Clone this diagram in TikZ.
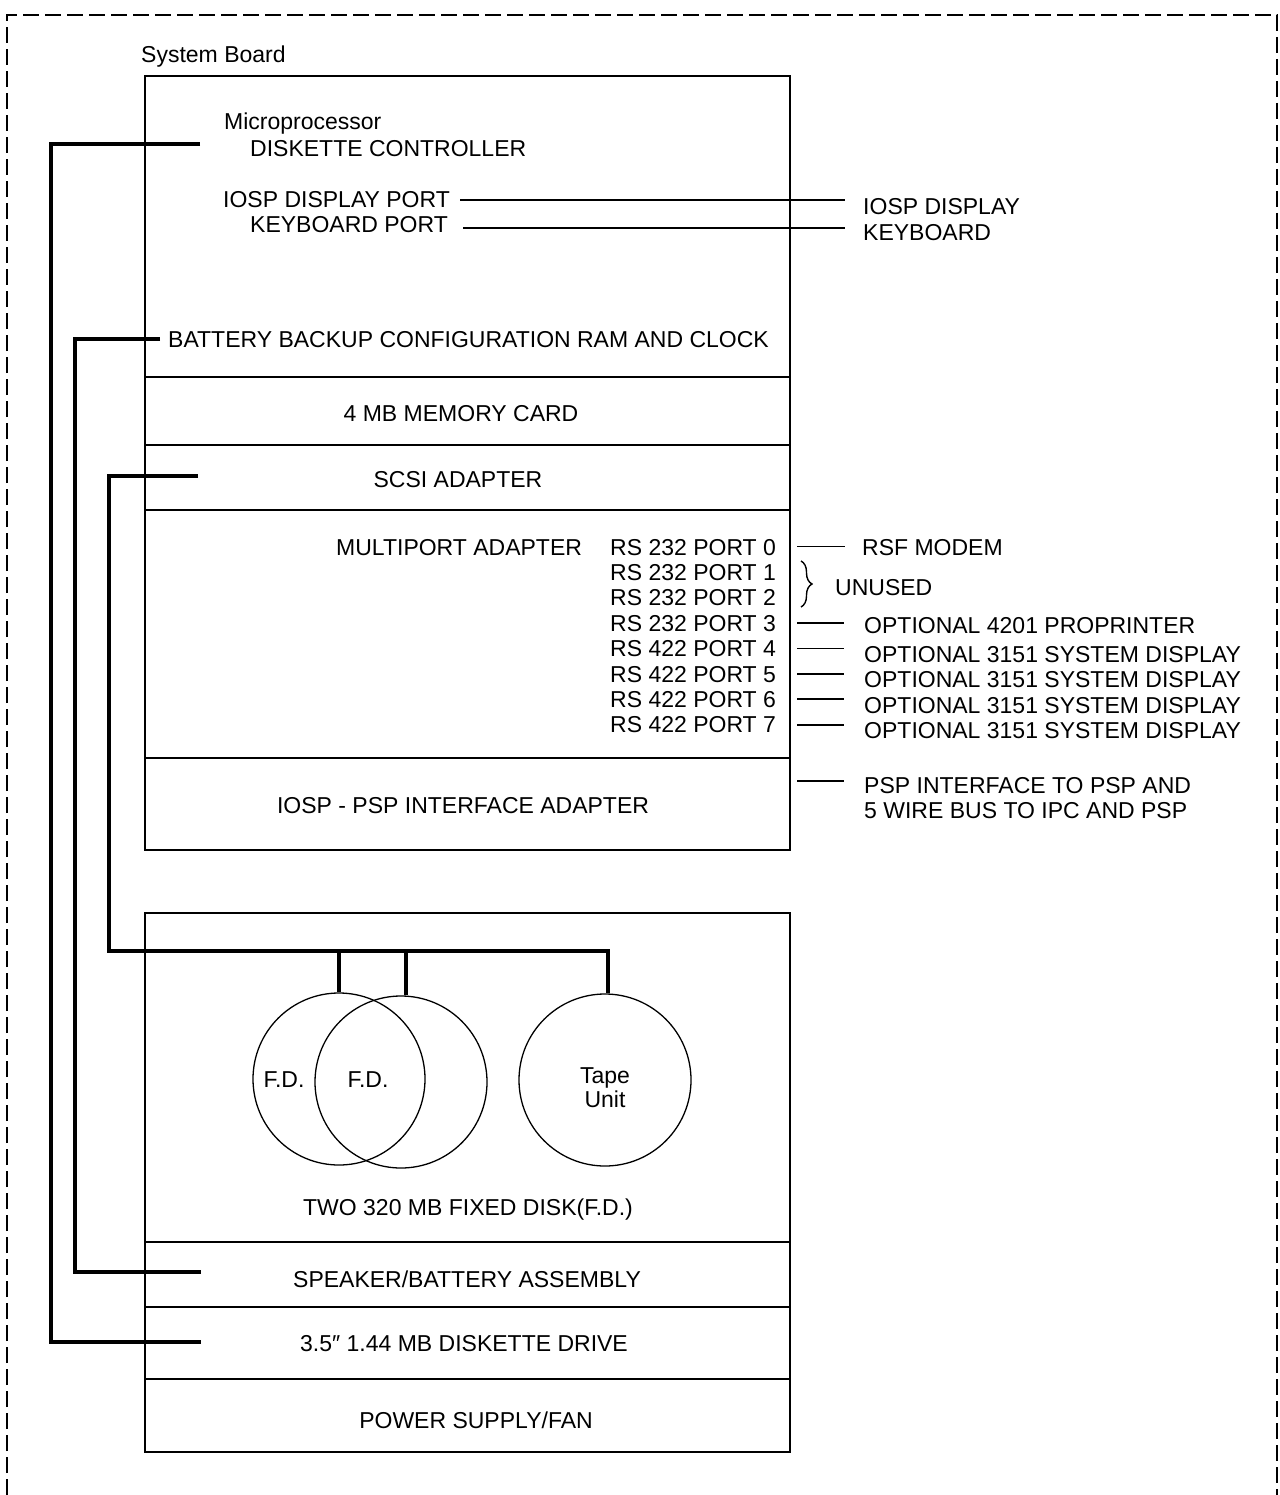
\documentclass[tikz,border=0pt]{standalone}
\usepackage{fontspec}
\setmainfont{Liberation Sans}
\usetikzlibrary{decorations.pathreplacing}
\begin{document}
\begin{tikzpicture}[x=1pt,y=-1pt,
  lbl/.style={font=\fontsize{23}{26}\selectfont, inner sep=0pt, anchor=base west},
  clbl/.style={font=\fontsize{23}{26}\selectfont, inner sep=0pt, anchor=base},
  boxline/.style={line width=1.3pt},
  wire/.style={line width=1.2pt},
  bus/.style={line width=3.6pt, line join=miter},
  disk/.style={draw, circle, minimum size=172pt, inner sep=0pt, line width=1.3pt},
  frame/.style={line width=2pt, dash pattern=on 16pt off 6pt}
  ]
\useasboundingbox (0,0) rectangle (1279,1495);

% outer dashed frame
\draw[frame] (7,1495) -- (7,15) -- (1277,15) -- (1277,1495);

% system board
\node[lbl] (sb) at (141,63) {System Board};
\draw[boxline] (145,76) rectangle (790,850);
\draw[boxline] (145,377) -- (790,377);
\draw[boxline] (145,445) -- (790,445);
\draw[boxline] (145,510) -- (790,510);
\draw[boxline] (145,758) -- (790,758);

\node[lbl] (mp) at (224,130) {Microprocessor};
\node[lbl] (dc) at (250,157) {DISKETTE CONTROLLER};
\node[lbl] (idp) at (223,208) {IOSP DISPLAY PORT};
\node[lbl] (kbp) at (250,233) {KEYBOARD PORT};
\node[lbl] (idisp) at (863,215) {IOSP DISPLAY};
\node[lbl] (kbd) at (863,241) {KEYBOARD};
\coordinate (idpL) at (460,200);
\coordinate (idpR) at (845,200);
\coordinate (kbpL) at (463,228);
\coordinate (kbpR) at (845,228);
\draw[wire] (idpL) -- (idpR);
\draw[wire] (kbpL) -- (kbpR);

\node[lbl] (bat) at (168,347) {BATTERY BACKUP CONFIGURATION RAM AND CLOCK};
\node[clbl] (mem) at (461,421) {4 MB MEMORY CARD};
\node[clbl] (scsi) at (458,487) {SCSI ADAPTER};
\node[lbl] (mpa) at (336,555) {MULTIPORT ADAPTER};

\node[lbl] (p0) at (610,555.0) {RS 232 PORT 0};
\node[lbl] (p1) at (610,580.4) {RS 232 PORT 1};
\node[lbl] (p2) at (610,605.8) {RS 232 PORT 2};
\node[lbl] (p3) at (610,631.2) {RS 232 PORT 3};
\node[lbl] (p4) at (610,656.6) {RS 422 PORT 4};
\node[lbl] (p5) at (610,682.0) {RS 422 PORT 5};
\node[lbl] (p6) at (610,707.4) {RS 422 PORT 6};
\node[lbl] (p7) at (610,732.8) {RS 422 PORT 7};

\node[lbl] (rsf) at (862,555) {RSF MODEM};
\node[lbl] (unu) at (835,595) {UNUSED};
\node[lbl] (o3) at (864,633) {OPTIONAL 4201 PROPRINTER};
\node[lbl] (o4) at (864,662) {OPTIONAL 3151 SYSTEM DISPLAY};
\node[lbl] (o5) at (864,687) {OPTIONAL 3151 SYSTEM DISPLAY};
\node[lbl] (o6) at (864,713) {OPTIONAL 3151 SYSTEM DISPLAY};
\node[lbl] (o7) at (864,738) {OPTIONAL 3151 SYSTEM DISPLAY};

\draw[line width=0.9pt] (797,546) -- (845,546);
\foreach \yy in {623,648.5,674,699,725,781}
  \draw[wire] (797,\yy) -- (844,\yy);
\draw[line width=1.4pt, decorate, decoration={brace, amplitude=11pt}] (801,561) -- (801,607);

\node[lbl] (psp1) at (864,793) {PSP INTERFACE TO PSP AND};
\node[lbl] (psp2) at (864,818) {5 WIRE BUS TO IPC AND PSP};
\node[clbl] (iosp) at (463,813) {IOSP - PSP INTERFACE ADAPTER};

% lower unit
\draw[boxline] (145,913) rectangle (790,1452);
\draw[boxline] (145,1242) -- (790,1242);
\draw[boxline] (145,1307) -- (790,1307);
\draw[boxline] (145,1379) -- (790,1379);

\node[disk] (fd1) at (339,1079) {};
\node[disk] (fd2) at (401,1082) {};
\node[disk] (tape) at (605,1080) {};
\node[clbl] (fd1t) at (284,1087) {F.D.};
\node[clbl] (fd2t) at (368,1087) {F.D.};
\node[clbl] (tapet) at (605,1083) {Tape};
\node[clbl] (unitt) at (605,1107) {Unit};

\node[clbl] (two) at (468,1215) {TWO 320 MB FIXED DISK(F.D.)};
\node[clbl] (spk) at (467,1287) {SPEAKER/BATTERY ASSEMBLY};
\node[clbl] (dd) at (464,1351) {3.5″ 1.44 MB DISKETTE DRIVE};
\node[clbl] (ps) at (476,1428) {POWER SUPPLY/FAN};

% thick buses
\coordinate (aS) at (200,144);
\coordinate (aE) at (201,1342);
\draw[bus] (aS) -- (51,144) -- (51,1342) -- (aE);
\coordinate (bS) at (160,339);
\coordinate (bE) at (201,1272);
\draw[bus] (bS) -- (75,339) -- (75,1272) -- (bE);
\coordinate (cS) at (198,476);
\coordinate (j1) at (339,951);
\coordinate (j2) at (406,951);
\coordinate (j3) at (608,951);
\draw[bus] (cS) -- (109,476) -- (109,951) -- (j3) -- (j3 |- tape.north);
\draw[bus] (j1) -- (fd1.north);
\draw[bus] (j2) -- (j2 |- fd2.north);
\end{tikzpicture}
\end{document}
